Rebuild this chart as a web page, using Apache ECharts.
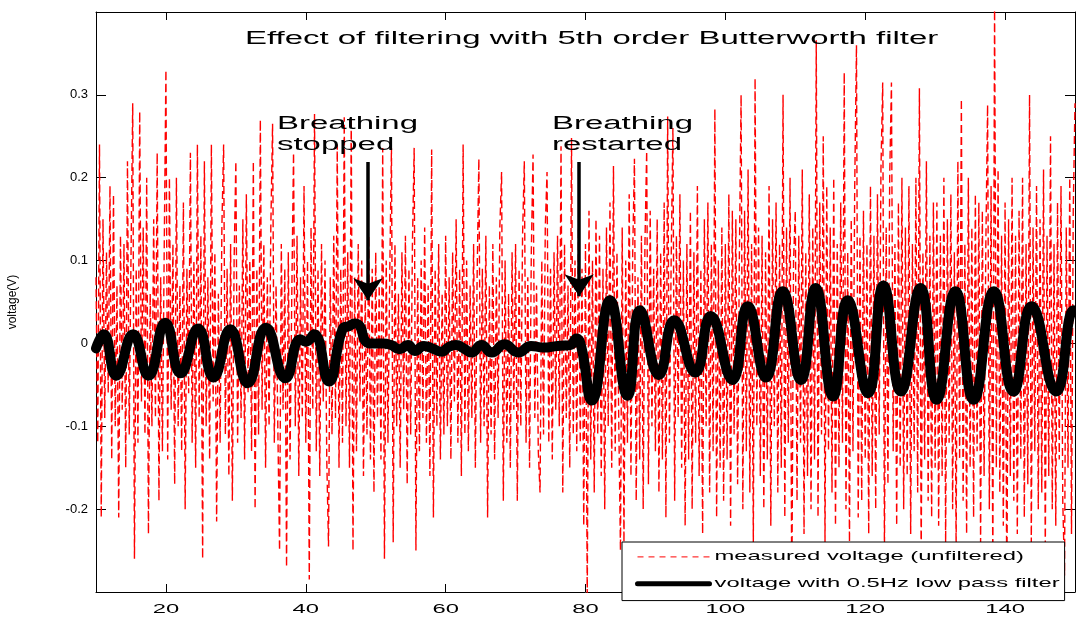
<!DOCTYPE html>
<html>
<head>
<meta charset="utf-8">
<title>Effect of filtering with 5th order Butterworth filter</title>
<script src="https://cdn.jsdelivr.net/npm/echarts@6/dist/echarts.min.js"></script>
<style>
  html, body { margin: 0; padding: 0; background: #fff; }
  #chart { width: 1076px; height: 626px; }
</style>
</head>
<body>
<div id="chart"></div>
<script>
// measured signal, one value every 0.25 s starting at 10 s (one row = 5 s)
const startTime = 10
const sampleStep = 0.25
const measuredVoltage = [
  0.08, -0.12, 0.24, -0.21, 0.15, -0.09, 0.11, -0.06, 0.19, -0.14, 0.18, -0.1, 0.07, -0.21, 0.13, -0.08, 0.12, -0.15, 0.22, -0.11,
  0.1, 0.29, -0.26, 0.09, -0.12, 0.28, -0.07, 0.14, -0.11, 0.2, -0.23, 0.06, -0.1, 0.15, -0.09, 0.23, -0.19, 0.08, -0.13, 0.11,
  0.33, -0.14, 0.2, -0.08, 0.12, -0.17, 0.2, -0.1, 0.07, -0.13, 0.17, -0.2, 0.09, -0.06, 0.23, -0.12, 0.1, -0.15, 0.24, -0.09,
  0.13, -0.26, 0.22, -0.1, 0.08, -0.14, 0.24, -0.07, 0.11, -0.215, 0.06, -0.12, 0.14, 0.24, -0.11, 0.09, -0.16, 0.12, -0.19, 0.1,
  0.22, -0.12, 0.07, -0.09, 0.15, -0.14, 0.18, -0.06, 0.1, -0.13, 0.22, -0.2, 0.09, -0.11, 0.27, -0.08, 0.12, -0.15, 0.08, -0.1,
  0.14, 0.265, -0.12, 0.07, -0.1, -0.25, 0.12, -0.08, 0.09, -0.27, 0.11, -0.14, 0.06, 0.23, -0.1, 0.13, -0.16, 0.08, -0.09, 0.19,
  -0.12, 0.1, -0.285, 0.14, -0.08, 0.277, -0.13, 0.09, -0.16, 0.12, -0.07, 0.1, -0.14, -0.245, 0.08, -0.11, 0.13, -0.09, 0.24, -0.15,
  0.09, -0.12, 0.273, -0.1, 0.11, -0.15, 0.273, -0.25, 0.08, -0.13, 0.12, -0.07, 0.1, -0.16, 0.06, -0.11, 0.13, -0.14, 0.09, -0.18,
  0.11, -0.09, 0.07, -0.14, 0.236, -0.26, 0.1, -0.12, 0.08, 0.236, -0.24, 0.12, -0.1, 0.06, -0.15, 0.11, -0.08, 0.13, -0.17, 0.09,
  -0.11, 0.12, 0.236, -0.25, 0.08, -0.13, 0.1, -0.09, 0.14, -0.12, 0.07, -0.16, 0.234, -0.21, 0.09, -0.1, 0.12, -0.14, 0.06, -0.11,
  0.13, -0.1, 0.08, -0.14, 0.11, -0.07, 0.15, -0.12, 0.09, -0.16, 0.24, -0.11, 0.1, -0.13, 0.07, -0.09, 0.12, -0.15, 0.08, 0.223,
  -0.12, 0.09, -0.1, 0.13, -0.21, 0.07, -0.11, 0.12, -0.14, 0.08, -0.09, 0.14, 0.207, -0.19, 0.1, -0.12, 0.06, -0.15, 0.11, -0.08,
  0.12, -0.19, 0.09, -0.1, 0.13, 0.22, -0.12, 0.08, -0.15, 0.11, 0.228, -0.09, 0.07, -0.13, -0.18, 0.1, -0.11, 0.14, 0.207, -0.12,
  0.09, -0.14, 0.11, -0.08, 0.13, -0.1, 0.238, -0.18, 0.12, -0.09, 0.07, -0.15, 0.248, -0.11, 0.1, -0.13, 0.14, -0.12, 0.09, -0.22,
  0.12, -0.31, 0.16, -0.14, 0.1, -0.18, 0.15, -0.11, 0.13, -0.16, 0.09, -0.2, 0.14, -0.1, 0.17, -0.15, 0.214, -0.13, 0.11, -0.09,
  -0.25, 0.14, -0.24, 0.1, -0.12, 0.18, -0.16, 0.11, 0.223, -0.19, 0.08, -0.14, 0.13, -0.2, 0.12, 0.232, -0.17, 0.16, -0.1, 0.09,
  -0.13, 0.15, -0.18, 0.11, -0.14, 0.17, -0.21, 0.274, -0.12, 0.1, 0.26, -0.19, 0.13, -0.09, 0.18, -0.15, 0.1, -0.22, 0.12, -0.14,
  0.16, -0.2, 0.11, -0.12, 0.19, -0.16, 0.09, -0.23, 0.15, -0.1, 0.17, -0.18, 0.12, -0.13, 0.283, -0.21, 0.1, -0.15, 0.14, -0.19,
  0.12, -0.14, 0.18, -0.22, 0.16, -0.11, 0.15, -0.17, 0.1, 0.3, -0.2, 0.16, -0.13, 0.21, -0.18, 0.12, -0.24, 0.32, -0.1, 0.14,
  -0.16, 0.13, -0.2, 0.11, -0.14, 0.19, -0.22, 0.15, -0.1, 0.17, -0.18, 0.12, -0.15, 0.3, -0.21, 0.14, -0.12, 0.2, -0.31, 0.1,
  0.16, -0.19, 0.13, -0.12, 0.21, -0.23, 0.11, -0.16, 0.18, -0.2, 0.14, -0.14, 0.366, -0.21, 0.17, -0.11, 0.25, -0.24, 0.19, -0.13,
  0.14, -0.18, 0.2, -0.22, 0.12, -0.15, 0.17, -0.12, 0.327, -0.2, 0.11, -0.24, 0.15, -0.13, 0.19, 0.36, -0.21, 0.13, -0.19, 0.16,
  -0.14, 0.12, -0.23, 0.19, -0.16, 0.13, -0.2, 0.18, -0.11, 0.21, 0.315, -0.25, 0.14, -0.17, 0.2, 0.315, -0.13, 0.12, -0.22, 0.17,
  -0.15, 0.2, -0.2, 0.14, -0.16, 0.19, -0.23, 0.12, -0.13, 0.2, -0.18, 0.308, -0.26, 0.11, -0.14, 0.22, -0.19, 0.13, -0.21, 0.17,
  -0.15, 0.17, -0.22, 0.13, -0.16, 0.2, -0.24, 0.15, -0.12, 0.18, -0.2, 0.11, -0.25, 0.22, -0.14, 0.295, -0.19, 0.12, -0.23, 0.2,
  -0.15, 0.14, -0.21, 0.18, -0.13, 0.17, -0.24, 0.16, -0.16, 0.12, 0.288, -0.2, 0.19, -0.27, 0.41, -0.15, 0.21, -0.18, 0.13, -0.22,
  0.17, -0.31, 0.15, -0.16, 0.2, -0.19, 0.13, -0.23, 0.16, -0.14, 0.2, -0.21, 0.12, -0.17, 0.3, -0.24, 0.14, -0.13, 0.19, -0.2,
  0.15, -0.18, 0.21, -0.25, 0.13, -0.16, 0.25, -0.2, 0.12, -0.22, 0.17, -0.14, 0.19, -0.19, -0.28, 0.14, -0.15, 0.2, -0.23, 0.16,
  0.29
]

// low pass filtered signal: turning points
const filteredTime = [
  10.0, 11.1, 12.9, 15.3, 17.5, 19.9, 22.1, 24.6, 26.8, 29.2, 31.7, 34.3, 37.1, 39.2, 40.0, 41.2, 43.3,
  45.3, 46.2, 47.0, 47.8, 48.5, 49.5, 51.0, 52.2, 53.4, 54.6, 55.6, 56.9, 58.1, 59.4, 60.5, 61.5, 62.6,
  63.7, 65.1, 66.6, 68.4, 70.4, 72.2, 74.0, 76.0, 77.8, 78.7, 79.4, 80.9, 83.5, 86.0, 87.8, 90.5, 92.7,
  95.7, 97.9, 101.0, 103.2, 105.8, 108.2, 110.8, 112.9, 115.4, 117.5, 120.4, 122.6, 125.1, 127.9, 130.2,
  132.9, 135.5, 138.4, 141.2, 143.8, 147.3, 149.8, 150.0
]
const filteredVoltage = [
  -0.006, 0.011, -0.039, 0.011, -0.039, 0.025, -0.036, 0.018, -0.041, 0.017, -0.048, 0.019, -0.042, 0.005, 0.002, 0.011, -0.046,
  0.018, 0.021, 0.024, 0.02, 0.003, 0.0, 0.0, -0.002, -0.007, -0.002, -0.009, -0.003, -0.006, -0.01, -0.004, -0.002, -0.006,
  -0.011, -0.002, -0.011, -0.001, -0.011, -0.003, -0.005, -0.003, -0.002, 0.006, -0.004, -0.069, 0.052, -0.063, 0.04, -0.038, 0.028,
  -0.035, 0.033, -0.044, 0.045, -0.041, 0.063, -0.044, 0.067, -0.064, 0.052, -0.06, 0.07, -0.058, 0.067, -0.068,
  0.063, -0.068, 0.063, -0.058, 0.045, -0.058, 0.04, 0.038
]

const xTickValues = [20, 40, 60, 80, 100, 120, 140]
const seriesNames = ['measured voltage (unfiltered)', 'voltage with 0.5Hz low pass filter']

// text in the figure is drawn about 1.8x wider than normal, so stretch horizontal canvas text
const TEXT_STRETCH = 1.83
;(function () {
  const proto = CanvasRenderingContext2D.prototype
  const fill = proto.fillText
  const measure = proto.measureText
  proto.fillText = function (text, x, y) {
    const m = this.getTransform()
    if (m.b !== 0 || m.c !== 0) return fill.call(this, text, x, y)
    const ax = m.a * x + m.e
    this.save()
    this.setTransform(m.a * TEXT_STRETCH, 0, 0, m.d, m.e * TEXT_STRETCH + ax * (1 - TEXT_STRETCH), m.f)
    fill.call(this, text, x, y)
    this.restore()
  }
  proto.measureText = function (text) {
    const r = measure.call(this, text)
    return {
      width: r.width * TEXT_STRETCH,
      actualBoundingBoxAscent: r.actualBoundingBoxAscent,
      actualBoundingBoxDescent: r.actualBoundingBoxDescent,
      actualBoundingBoxLeft: r.actualBoundingBoxLeft * TEXT_STRETCH,
      actualBoundingBoxRight: r.actualBoundingBoxRight * TEXT_STRETCH,
      fontBoundingBoxAscent: r.fontBoundingBoxAscent,
      fontBoundingBoxDescent: r.fontBoundingBoxDescent
    }
  }
})()

const FONT = 'Liberation Sans, Arial, Helvetica, sans-serif'

const chart = echarts.init(document.getElementById('chart'), null, { renderer: 'canvas' })

const boxAxis = {
  type: 'value',
  min: 10,
  max: 150,
  axisLine: { show: true, onZero: false, lineStyle: { color: '#000', width: 1 } },
  splitLine: { show: false }
}

// legend shows only the line, not a marker
const noMarker = { color: 'rgba(0,0,0,0)', borderColor: 'rgba(0,0,0,0)', borderWidth: 0, opacity: 0 }

const option = {
  animation: false,
  backgroundColor: '#fff',
  textStyle: { fontFamily: FONT, color: '#000' },
  title: {
    text: 'Effect of filtering with 5th order Butterworth filter',
    left: 245,
    top: 23,
    padding: 0,
    textStyle: { fontFamily: FONT, fontSize: 18, fontWeight: 'normal', color: '#000' }
  },
  grid: { left: 96, right: 1, top: 12, bottom: 34, outerBoundsMode: 'none' },
  legend: {
    orient: 'vertical',
    left: 622,
    top: 542,
    padding: [3, 5, 5, 13],
    itemGap: 3,
    itemWidth: 72,
    itemHeight: 14,
    backgroundColor: '#fff',
    borderColor: '#000',
    borderWidth: 1,
    borderRadius: 0,
    selectedMode: false,
    textStyle: { fontFamily: FONT, fontSize: 13, color: '#000' },
    itemStyle: noMarker,
    data: [
      { name: seriesNames[0], itemStyle: noMarker, lineStyle: { color: '#ff0000', width: 1, type: [6, 5] } },
      { name: seriesNames[1], itemStyle: noMarker, lineStyle: { color: '#000', width: 5, type: 'solid' } }
    ]
  },
  xAxis: [
    Object.assign({}, boxAxis, {
      position: 'bottom',
      name: 'time (s)',
      nameLocation: 'middle',
      nameGap: 17,
      nameTextStyle: { fontFamily: FONT, fontSize: 13, color: '#000' },
      axisTick: { show: true, inside: true, length: 8, lineStyle: { color: '#000' }, customValues: xTickValues },
      axisLabel: { show: true, margin: 6, fontSize: 13, color: '#000', fontFamily: FONT, customValues: xTickValues }
    }),
    Object.assign({}, boxAxis, {
      position: 'top',
      axisTick: { show: true, inside: true, length: 8, lineStyle: { color: '#000' }, customValues: xTickValues },
      axisLabel: { show: false }
    })
  ],
  yAxis: [
    {
      type: 'value',
      min: -0.3,
      max: 0.4,
      interval: 0.1,
      position: 'left',
      name: 'voltage(V)',
      nameLocation: 'middle',
      nameGap: 72,
      nameTextStyle: { fontFamily: FONT, fontSize: 12, color: '#000' },
      axisLine: { show: true, onZero: false, lineStyle: { color: '#000', width: 1 } },
      axisTick: { show: true, inside: true, length: 10, lineStyle: { color: '#000' } },
      axisLabel: {
        margin: 8,
        fontSize: 13,
        color: '#000',
        fontFamily: FONT,
        showMinLabel: false,
        showMaxLabel: false,
        formatter: (v) => (Math.abs(v) < 1e-9 ? '0' : v.toFixed(1))
      },
      splitLine: { show: false }
    },
    {
      type: 'value',
      min: -0.3,
      max: 0.4,
      interval: 0.1,
      position: 'right',
      axisLine: { show: true, onZero: false, lineStyle: { color: '#000', width: 1 } },
      axisTick: { show: true, inside: true, length: 10, lineStyle: { color: '#000' } },
      axisLabel: { show: false },
      splitLine: { show: false }
    }
  ],
  series: [
    {
      name: seriesNames[0],
      type: 'line',
      xAxisIndex: 0,
      yAxisIndex: 0,
      data: measuredVoltage.map((v, i) => [startTime + i * sampleStep, v]),
      symbol: 'none',
      lineStyle: { color: '#ff0000', width: 1.4, type: [8, 4] },
      itemStyle: { color: '#ff0000' },
      emphasis: { disabled: true },
      z: 2
    },
    {
      name: seriesNames[1],
      type: 'line',
      xAxisIndex: 0,
      yAxisIndex: 0,
      data: filteredTime.map((t, i) => [t, filteredVoltage[i]]),
      symbol: 'none',
      smooth: 0.5,
      lineStyle: { color: '#000', width: 10, cap: 'round', join: 'round' },
      itemStyle: { color: '#000' },
      emphasis: { disabled: true },
      z: 3,
      markLine: {
        silent: true,
        symbol: ['none', 'arrow'],
        symbolSize: 22,
        label: { show: false },
        lineStyle: { color: '#000', width: 3.5, type: 'solid' },
        itemStyle: { color: '#000' },
        emphasis: { disabled: true },
        data: [
          [{ coord: [48.9, 0.219] }, { coord: [48.9, 0.052] }],
          [{ coord: [79.1, 0.219] }, { coord: [79.1, 0.057] }]
        ]
      },
      markPoint: {
        silent: true,
        symbol: 'circle',
        symbolSize: 0,
        label: {
          show: true,
          position: 'right',
          distance: 0,
          formatter: (p) => p.name,
          fontFamily: FONT,
          fontSize: 18,
          lineHeight: 21,
          color: '#000'
        },
        data: [
          { name: 'Breathing\nstopped', coord: [35.88, 0.252] },
          { name: 'Breathing\nrestarted', coord: [75.21, 0.252] }
        ]
      }
    }
  ]
}

chart.setOption(option)
</script>
</body>
</html>
